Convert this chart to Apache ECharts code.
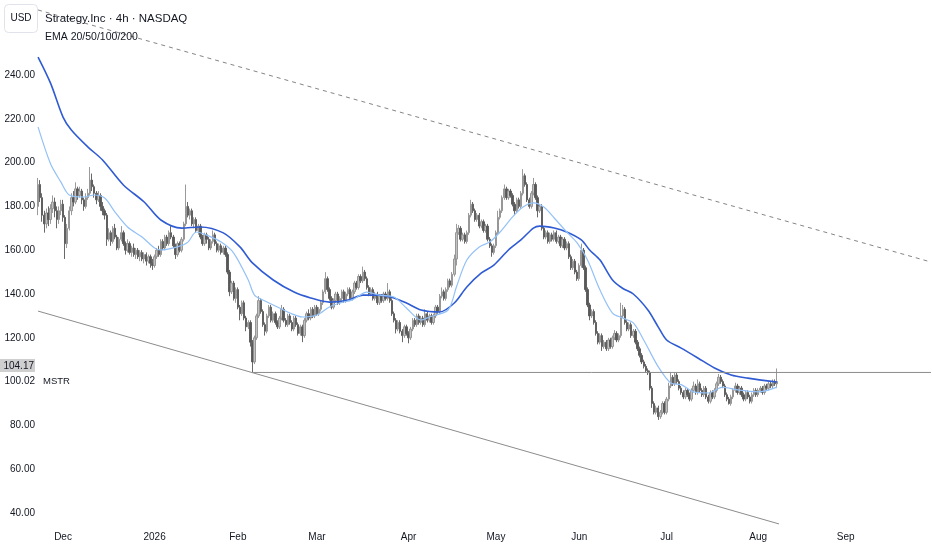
<!DOCTYPE html>
<html><head><meta charset="utf-8">
<script src="https://cdn.jsdelivr.net/npm/echarts@6/dist/echarts.min.js"></script>
<style>html,body{margin:0;padding:0;background:#fff}#c{width:932px;height:550px}</style>
</head><body><div id="c"></div>
<script>
const FONT = "'Liberation Sans',Arial,sans-serif";

// 4h bars, rows: [open, close, low, high]
const novBars = [
[180,190,176,193],[190,184,182,192],[184,176,173,186],[176,172,168,178],[172,177,170,179],[177,174,171,180],
[174,179,172,181],[179,182,177,185],[182,178,175,184],[178,174,170,180],[174,178,172,180],[178,181,176,183]];
const decBars = [
[181,175,173,183],[175,163,156,176],[163,170,161,172],[170,178,169,180],[178,184,176,186],[184,182,180,187],
[182,188,181,191],[188,185,183,189],[185,187,184,189],[187,183,181,188],[183,180,178,184],[180,184,179,186],
[184,186,183,188],[186,192,185,198],[192,189,187,195],[189,186,184,190],[186,183,181,187],[183,185,182,187],
[185,180,178,186],[180,178,176,182],[178,176,174,179],[176,165,162,177],[165,168,164,170],[168,164,162,169],
[164,170,163,171],[170,166,165,172],[166,161,160,167],[161,165,160,166],[165,168,164,171],[168,163,162,169],
[163,160,158,164],[160,163,159,165],[163,159,158,164],[159,161,157,162],[161,158,157,163],[158,160,156,161],
[160,157,156,161],[157,159,155,160],[159,156,155,160],[156,158,154,159],[158,155,153,159],[155,157,154,158],
[157,154,152,158],[154,153,151,156]];
const janBars = [
[153,157,152,158],[157,160,156,161],[160,158,157,162],[158,164,157,165],[164,161,160,165],[161,166,160,167],
[166,163,162,167],[163,168,162,169],[168,166,165,171],[166,162,161,167],[162,158,156,163],[158,163,157,164],
[163,160,159,164],[160,165,159,166],[165,172,164,173],[172,180,171,190],[180,176,175,182],[176,178,174,179],
[178,172,171,179],[172,174,170,175],[174,169,168,175],[169,171,167,172],[171,166,165,172],[166,163,162,167],
[163,167,162,168],[167,165,163,168],[165,161,160,166],[161,164,160,165],[164,167,163,169],[167,163,162,168],
[163,160,159,164],[160,162,159,163],[162,159,158,163],[159,161,158,162],[161,158,157,162],[158,150,149,159],
[150,141,139,151],[141,145,140,146],[145,138,137,146],[138,142,136,143]];
const febBars = [
[142,134,133,143],[134,131,128,135],[131,136,130,137],[136,129,128,137],[129,125,123,130],[125,127,124,128],
[127,118,116,128],[118,109,104.17,119],[109,120,108,121],[120,130,119,131],[130,137,129,139],[137,132,131,138],
[132,126,125,133],[126,123,121,127],[123,130,122,131],[130,134,129,135],[134,128,127,135],[128,131,127,132],
[131,127,126,132],[127,125,124,128],[125,129,124,130],[129,133,128,135],[133,128,127,134],[128,126,125,129],
[126,130,125,131],[130,127,126,131],[127,124,123,128],[124,129,123,130],[129,126,125,130],[126,122,121,127],
[122,125,121,126],[125,121,118,126],[121,128,120,129],[128,131,127,132],[131,129,128,133],[129,133,128,134],
[133,130,129,134],[130,134,129,135]];
const marBars = [
[134,131,130,135],[131,133,130,134],[133,136,132,137],[136,141,135,142],[141,147,140,150],[147,142,141,148],
[142,138,137,143],[138,134,133,139],[134,137,133,138],[137,140,136,141],[140,136,135,141],[136,138,135,139],
[138,141,137,142],[141,137,136,142],[137,140,136,141],[140,142,139,143],[142,138,137,143],[138,141,137,142],
[141,145,140,146],[145,143,142,146],[143,148,142,149],[148,146,145,149],[146,150,145,152.5],[150,147,146,151],
[147,143,142,148],[143,140,139,144],[140,142,139,143],[142,138,137,143],[138,140,137,141],[140,136,135,141],
[136,139,135,140],[139,137,136,140],[137,140,136,141],[140,138,137,141],[138,141,137,145],[141,137,136,142],
[137,131,130,138],[131,128,127,132],[128,124,122,129],[124,127,123,128],[127,123,122,128],[123,121,118,124],
[121,125,120,126],[125,122,121,126]];
const aprBars = [
[122,120,117.5,123],[120,124,119,125],[124,128,123,129],[128,126,125,129],[126,130,125,131],[130,127,126,131],
[127,129,126,130],[129,126,125,130],[126,131,125,133],[131,128,127,132],[128,130,127,131],[130,127,126,131],
[127,130,126,131],[130,134,129,135],[134,132,131,135],[132,139,131,140],[139,141,138,143],[141,138,137,142],
[138,142,137,143],[142,146,141,147],[146,144,143,147],[144,149,143,150],[149,156,148,158],[156,168,153,172],
[168,170,167,171.5],[170,165,164,171],[165,167,164,168],[167,164,163,168],[164,168,163,169],[168,176,167,177],
[176,181,175,183],[181,178,177,182],[178,174,173,179],[174,176,173,177],[176,171,170,177],[171,173,170,174],
[173,169,168,174],[169,171,168,172],[171,165,164,172],[165,162,161,166],[162,159,157,163],[159,162,158,163]];
const mayBars = [
[162,168,161,169],[168,175,167,178],[175,178,174,179],[178,184,177,185],[184,188,183,190],[188,184,183,189],
[184,187,183,188],[187,185,184,188],[185,181,180,186],[181,178,176,182],[178,183,177,184],[183,180,179,184],
[180,186,179,187],[186,194,185,197],[194,190,189,195],[190,183,182,191],[183,180,179,184],[180,186,179,187],
[186,190,185,193],[190,184,183,191],[184,178,175,185],[178,180,177,181],[180,170,169,181],[170,166,165,171],
[166,168,165,169],[168,164,163,169],[164,167,163,168],[167,165,164,168],[165,168,164,169],[168,164,163,169],
[164,166,163,167],[166,162,161,167],[162,165,161,166],[165,161,160,166],[161,163,160,164],[163,157,156,164],
[157,152,151,158],[152,155,151,156],[155,150,149,156],[150,147,146,151]];
const junBars = [
[147,153,146,154],[153,160,152,163],[160,152,151,161],[152,142,141,153],[142,135,134,143],[135,130,128,136],
[130,132,129,133],[132,127,126,133],[127,122,121,128],[122,118,117,123],[118,121,117,122],[121,116,114,122],
[116,118,115,119],[118,115,114,119],[115,119,114,120],[119,116,115,120],[116,120,115,121],[120,122,119,123.5],
[122,119,118,123],[119,121,118,122],[121,130,120,136],[130,133,129,135],[133,127,126,134],[127,124,123,128],
[124,126,123,127],[126,121,120,127],[121,123,120,124],[123,118,117,124],[118,115,114,119],[115,112,111,116],
[112,109,108,113],[109,107,106,110],[107,105,104,108],[105,104,103,106],[104,97,96,105],[97,90,88,98],
[90,86,85,91],[86,88,85,89],[88,84,82.5,89],[84,86,83,87],[86,90,85,91],[90,86,85,91]];
const julBars = [
[86,92,85,93],[92,98,91,99.5],[98,102,97,104.4],[102,99,98,103],[99,103,98,104],[103,100,99,104],
[100,97,96,101],[97,95,94,98],[95,93,92,96],[93,96,92,97],[96,94,93,97],[94,92,91,95],
[92,96,91,97],[96,98,95,100],[98,95,94,99],[95,99,94,101],[99,96,95,100],[96,94,93,97],
[94,97,93,98],[97,93,92,98],[93,91,90,94],[91,95,90,96],[95,93,92,96],[93,96,92,97],
[96,99,95,100],[99,102,98,103.5],[102,100,99,103],[100,98,97,101],[98,94,93,99],[94,92,91,95],
[92,90,89.5,93],[90,93,89,94],[93,96,92,97],[96,98,95,99.5],[98,95,94,99],[95,97,94,98],
[97,94,93,98],[94,92,91,95],[92,95,91,96],[95,93,92,96],[93,91,90,94],[91,94,90,95],
[94,96,93,97],[96,94,93,97]];
const augBars = [
[94,96,93,97],[96,97,95,98],[97,95,94,98],[95,98,94,99],[98,97,96,99],[97,99,96,100],
[99,98,97,100],[98,100,97,101],[100,99,98,101],[99,100.02,97,106]];

// EMA readings: [bar index, price]
const ema50Points = [[0,248.2],[6,236.3],[12,220.8],[16,214.9],[24,207.1],[31,201.2],[41,189.8],[51,182.0],
[59,173.8],[69,170.1],[78,170.6],[89,167.9],[97,161.5],[103,154.2],[113,146.4],[123,140.9],[131,138.2],
[140,136.3],[149,137.3],[156,139.5],[164,139.5],[171,138.2],[177,135.9],[184,132.7],[193,131.8],[200,135.9],
[206,143.2],[213,149.6],[219,153.2],[226,160.1],[232,164.7],[238,170.1],[241,171.0],[248,170.1],[254,168.3],
[261,164.7],[265,160.1],[270,155.5],[276,146.4],[281,142.5],[286,140.0],[293,132.7],[298,124.9],[302,119.0],
[309,115.3],[317,110.8],[325,106.2],[333,103.0],[341,101.6],[355,99.8]];
const ema20Points = [[0,216.3],[6,199.5],[11,191.1],[15,185.2],[22,184.3],[27,185.2],[32,183.8],
[37,177.4],[43,170.6],[50,166.0],[56,161.0],[59,160.1],[67,161.5],[72,163.7],[76,168.3],[81,166.9],[88,163.7],
[94,158.7],[101,146.4],[104,139.5],[108,137.3],[115,134.1],[121,131.3],[127,129.5],[134,130.4],[140,134.1],
[145,135.9],[151,137.3],[158,140.9],[164,139.5],[171,138.6],[177,133.6],[184,128.1],[188,129.5],[197,132.7],
[201,143.2],[206,155.5],[212,161.5],[217,163.7],[222,168.3],[228,175.2],[233,179.7],[238,181.6],[243,179.7],
[248,174.7],[254,168.3],[259,163.3],[264,155.5],[270,141.8],[276,131.3],[281,129.0],[286,126.8],[291,119.0],
[298,106.7],[304,99.4],[309,98.6],[315,95.3],[322,94.8],[329,97.5],[336,96.2],[346,95.3],[355,97.5]];

// drawings
const upperTrend = [[0,269.7],[429,154.6]];
const lowerTrend = [[0,132.2],[356,35.0]];
const levelLine = [[103,104.17],[429,104.17]];
const levelPrice = 104.17;
const lastPrice = 100.02;
const priceTicks = [40,60,80,lastPrice,levelPrice,120,140,160,180,200,220,240];
const monthAbbr = ['Jan','Feb','Mar','Apr','May','Jun','Jul','Aug','Sep','Oct','Nov','Dec'];
const holidays = ['2025-11-27','2025-12-25','2026-01-01','2026-01-19','2026-02-16','2026-04-03','2026-05-25','2026-06-19','2026-07-03','2026-09-07'];
const totalSlots = 430;

const categories = [];
let d = new Date(Date.UTC(2025,10,20));
while (categories.length < totalSlots) {
  const wd = d.getUTCDay();
  const s = d.toISOString().slice(0,10);
  if (wd !== 0 && wd !== 6 && !holidays.includes(s)) { categories.push(s+' 09:30'); categories.push(s+' 13:30'); }
  d = new Date(d.getTime() + 86400000);
}
const bars = [].concat(novBars,decBars,janBars,febBars,marBars,aprBars,mayBars,junBars,julBars,augBars);

const yMin = 34.06, yMax = 274.25;
const chart = echarts.init(document.getElementById('c'));
chart.setOption({
  animation:false,
  backgroundColor:'#ffffff',
  textStyle:{fontFamily:FONT},
  title:{text:'Strategy.Inc · 4h · NASDAQ', subtext:'EMA 20/50/100/200', left:45, top:13, padding:0, itemGap:7,
    textStyle:{fontSize:11.5,fontWeight:'normal',color:'#131722',fontFamily:FONT},
    subtextStyle:{fontSize:10.5,color:'#131722',fontFamily:FONT}},
  graphic:[{type:'group',left:4,top:4,children:[
    {type:'rect',shape:{x:0,y:0,width:33,height:28,r:4},style:{fill:'#fff',stroke:'#e0e3eb',lineWidth:1}},
    {type:'text',style:{x:16.5,y:14,text:'USD',fill:'#131722',font:"10px "+FONT,textAlign:'center',textVerticalAlign:'middle'}}]}],
  grid:{left:37,right:0,top:0,bottom:24,outerBoundsMode:'none',containLabel:false},
  xAxis:{type:'category',data:categories,boundaryGap:true,axisLine:{show:false},axisTick:{show:false},splitLine:{show:false},
    axisLabel:{margin:6,fontSize:10,color:'#131722',fontFamily:FONT,
      interval:(i,v)=> i>0 && v.slice(5,7)!==categories[i-1].slice(5,7),
      formatter:v=>{const m=+v.slice(5,7); return m===1 ? v.slice(0,4) : monthAbbr[m-1];}}},
  yAxis:[
    {type:'value',min:yMin,max:yMax,position:'left',splitLine:{show:false},axisLine:{show:false},axisTick:{show:false},
     axisLabel:{customValues:priceTicks,margin:2,fontSize:10,color:'#131722',fontFamily:FONT,
       formatter:v=> Math.abs(v-levelPrice)<1e-6 ? '{hl|'+levelPrice.toFixed(2)+'}\n{gap| }' : v.toFixed(2),
       rich:{hl:{backgroundColor:'#cfcfcf',padding:[2,1,1,4],fontSize:10,lineHeight:14,color:'#131722',fontFamily:FONT},
             gap:{fontSize:10,lineHeight:14}}}},
    {type:'value',min:yMin,max:yMax,position:'left',splitLine:{show:false},axisLine:{show:false},axisTick:{show:false},
     axisLabel:{inside:true,customValues:[lastPrice],margin:6,fontSize:9.5,color:'#131722',fontFamily:FONT,formatter:()=> 'MSTR'}}
  ],
  series:[
    {type:'candlestick',data:bars,barWidth:'90%',
     itemStyle:{color:'#c2c2c2',color0:'#585858',borderColor:'#8e8e8e',borderColor0:'#585858',borderWidth:0.9},z:2},
    {type:'line',data:ema50Points,showSymbol:false,smooth:0.3,lineStyle:{color:'#2f5bd3',width:1.6},z:3},
    {type:'line',data:ema20Points,showSymbol:false,smooth:0.3,lineStyle:{color:'#93c1f7',width:1.2},z:3},
    {type:'line',data:levelLine,showSymbol:false,lineStyle:{color:'#8c8c8c',width:1},z:4},
    {type:'line',data:upperTrend,showSymbol:false,lineStyle:{color:'#858585',width:1,type:[4,4]},z:4},
    {type:'line',data:lowerTrend,showSymbol:false,lineStyle:{color:'#8c8c8c',width:1},z:4}
  ]
});
</script></body></html>
